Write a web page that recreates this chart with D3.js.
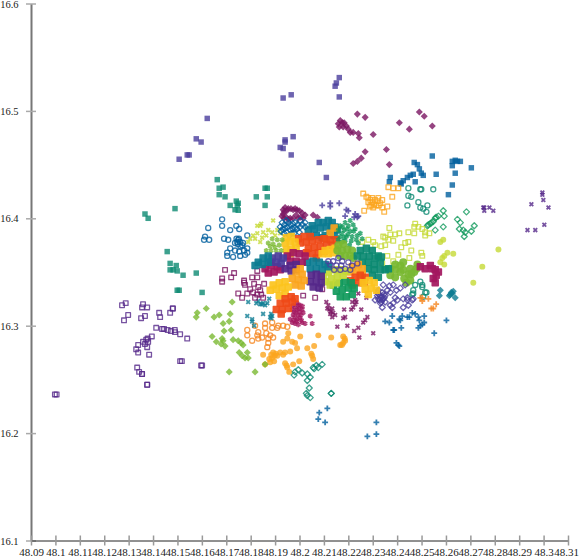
<!DOCTYPE html>
<html>
<head>
<meta charset="utf-8">
<script src="https://cdn.jsdelivr.net/npm/d3@7"></script>
<style>
html, body { margin: 0; padding: 0; background: #fff; overflow: hidden; }
</style>
</head>
<body>
<div id="chart"></div>
<script>
// Axis values
const xTicks = [48.09, 48.1, 48.11, 48.12, 48.13, 48.14, 48.15, 48.16, 48.17, 48.18, 48.19, 48.2, 48.21, 48.22, 48.23, 48.24, 48.25, 48.26, 48.27, 48.28, 48.29, 48.3, 48.31];
const yTicks = [16.1, 16.2, 16.3, 16.4, 16.5, 16.6];

// Points, [lon, lat]
const openSquarePurple = [[48.0998,16.236],[48.1005,16.236],[48.1273,16.319],[48.1288,16.321],[48.1281,16.305],[48.1298,16.31],[48.1359,16.32],[48.1355,16.317],[48.1376,16.317],[48.1351,16.307],[48.1367,16.309],[48.1425,16.312],[48.1429,16.308],[48.1481,16.316],[48.1481,16.316],[48.147,16.312],[48.1413,16.298],[48.1437,16.297],[48.1445,16.297],[48.146,16.296],[48.1473,16.295],[48.1489,16.296],[48.149,16.294],[48.1511,16.292],[48.154,16.288],[48.1395,16.29],[48.1378,16.288],[48.1372,16.287],[48.1359,16.285],[48.138,16.285],[48.1367,16.283],[48.1376,16.28],[48.1339,16.282],[48.1331,16.278],[48.1339,16.275],[48.1384,16.273],[48.1511,16.267],[48.1518,16.267],[48.1597,16.263],[48.1601,16.263],[48.1335,16.261],[48.1343,16.257],[48.1355,16.255],[48.1355,16.255],[48.1376,16.245],[48.1376,16.245]];
const fillSquareIndigo = [[48.2163,16.531],[48.2151,16.526],[48.2146,16.523],[48.2163,16.513],[48.1933,16.512],[48.1966,16.515],[48.1622,16.493],[48.1577,16.474],[48.1597,16.471],[48.1507,16.455],[48.154,16.459],[48.1548,16.459],[48.1941,16.473],[48.1941,16.471],[48.1974,16.476],[48.1921,16.466],[48.1933,16.465],[48.1966,16.459],[48.2081,16.452],[48.211,16.438]];
const fillSquareTeal = [[48.1663,16.436],[48.1671,16.428],[48.1687,16.429],[48.1671,16.422],[48.1695,16.42],[48.1741,16.416],[48.1749,16.414],[48.1745,16.412],[48.1716,16.412],[48.1736,16.408],[48.1749,16.4075],[48.1859,16.428],[48.1868,16.428],[48.1823,16.42],[48.1868,16.42],[48.1859,16.412],[48.149,16.409],[48.1367,16.404],[48.138,16.4],[48.1458,16.369],[48.147,16.358],[48.1495,16.356],[48.147,16.352],[48.1482,16.352],[48.1499,16.351],[48.1523,16.347],[48.1577,16.349],[48.1499,16.333],[48.1507,16.333],[48.1601,16.331]];
const fillDiamondWine = [[48.2175,16.489],[48.2179,16.485],[48.2208,16.48],[48.222,16.48],[48.2241,16.479],[48.2245,16.475],[48.2302,16.478],[48.2237,16.497],[48.2269,16.494],[48.2409,16.489],[48.245,16.483],[48.2491,16.499],[48.2511,16.495],[48.2544,16.486],[48.2356,16.464],[48.2269,16.462],[48.2253,16.456],[48.2237,16.453],[48.222,16.451],[48.2368,16.45],[48.2159,16.488],[48.2167,16.491],[48.2183,16.489],[48.2192,16.486],[48.22,16.483],[48.2163,16.485]];
const fillSquareBlue = [[48.2544,16.458],[48.247,16.452],[48.2483,16.45],[48.2491,16.446],[48.2499,16.442],[48.2507,16.44],[48.2466,16.441],[48.2454,16.44],[48.2442,16.438],[48.2474,16.434],[48.2425,16.435],[48.2413,16.433],[48.2372,16.438],[48.2368,16.434],[48.256,16.441],[48.2626,16.453],[48.2638,16.454],[48.2647,16.453],[48.2659,16.453],[48.2626,16.449],[48.2638,16.442],[48.2704,16.447],[48.2626,16.431],[48.261,16.422],[48.2417,16.432]];
const openSquareOrange = [[48.2261,16.423],[48.2274,16.42],[48.2298,16.419],[48.2282,16.415],[48.2294,16.412],[48.2323,16.419],[48.2339,16.417],[48.2331,16.414],[48.236,16.411],[48.2339,16.41],[48.2265,16.407],[48.2347,16.406],[48.2364,16.429],[48.2384,16.428],[48.2405,16.428],[48.238,16.42],[48.229,16.417],[48.231,16.417],[48.2306,16.413],[48.2282,16.419],[48.2315,16.412],[48.2298,16.415],[48.232,16.416],[48.2288,16.411],[48.2325,16.412],[48.2302,16.41]];
const openCircleTeal = [[48.2446,16.428],[48.2495,16.427],[48.2499,16.427],[48.2548,16.427],[48.2446,16.421],[48.2458,16.42],[48.2442,16.412],[48.2487,16.415],[48.2524,16.412],[48.2495,16.41],[48.2507,16.409],[48.252,16.406]];
const openDiamondGreen = [[48.2589,16.407],[48.2593,16.402],[48.2569,16.402],[48.2556,16.4],[48.2548,16.397],[48.2536,16.395],[48.2524,16.393],[48.2589,16.392],[48.2556,16.389],[48.2647,16.399],[48.2659,16.396],[48.2684,16.406],[48.2716,16.393],[48.2704,16.388],[48.2655,16.39],[48.2671,16.389],[48.2675,16.383],[48.2679,16.387],[48.254,16.396],[48.2528,16.394],[48.256,16.401]];
const timesPurple = [[48.2753,16.41],[48.2757,16.407],[48.2778,16.41],[48.2794,16.407],[48.2995,16.422],[48.2999,16.417],[48.295,16.413],[48.302,16.41],[48.3003,16.394],[48.2934,16.389],[48.2966,16.389],[48.2995,16.424],[48.2757,16.41]];
const openSquareLime = [[48.2368,16.391],[48.2343,16.383],[48.2351,16.382],[48.2372,16.385],[48.2392,16.385],[48.2409,16.386],[48.2446,16.387],[48.2474,16.395],[48.247,16.392],[48.2487,16.392],[48.2503,16.39],[48.2515,16.387],[48.2532,16.386],[48.247,16.386],[48.2515,16.384],[48.2384,16.379],[48.2364,16.38],[48.2446,16.378],[48.2433,16.377],[48.2417,16.373],[48.2458,16.37],[48.2499,16.368],[48.2503,16.365],[48.2405,16.366],[48.236,16.365],[48.245,16.363],[48.2339,16.358],[48.2384,16.36],[48.2282,16.38],[48.2257,16.378],[48.2302,16.378],[48.231,16.375],[48.2335,16.374],[48.2351,16.375]];
const fillCircleLime = [[48.2577,16.378],[48.2589,16.38],[48.2815,16.371],[48.263,16.367],[48.2606,16.368],[48.2593,16.365],[48.2585,16.363],[48.2577,16.359],[48.2593,16.357],[48.2749,16.355],[48.2712,16.34]];
const fillCircleGreen = [[48.2372,16.353],[48.2372,16.347],[48.2392,16.357],[48.2392,16.352],[48.2392,16.345],[48.2413,16.356],[48.2413,16.35],[48.2425,16.359],[48.2425,16.352],[48.2429,16.344],[48.2454,16.353],[48.2458,16.348],[48.2454,16.342],[48.247,16.35],[48.2479,16.353],[48.2483,16.357],[48.2446,16.348],[48.2438,16.34]];
const fillSquareCrimson = [[48.2495,16.355],[48.2515,16.353],[48.2536,16.356],[48.2544,16.353],[48.2556,16.352],[48.2569,16.35],[48.256,16.347],[48.2548,16.344],[48.2556,16.34]];
const openCircleTealLow = [[48.2495,16.341],[48.2474,16.338],[48.2503,16.336],[48.2515,16.331],[48.2466,16.333],[48.2462,16.329],[48.2507,16.327],[48.2503,16.338],[48.252,16.331],[48.2466,16.33]];
const fillDiamondSea = [[48.2577,16.333],[48.2573,16.328],[48.2614,16.328],[48.2622,16.331],[48.263,16.332],[48.2638,16.326],[48.2618,16.329],[48.2626,16.33]];
const plusOrange = [[48.2495,16.326],[48.2503,16.323],[48.2528,16.325],[48.254,16.316],[48.2548,16.316],[48.256,16.32],[48.2503,16.326]];
const plusBlue = [[48.238,16.309],[48.2351,16.304],[48.2368,16.303],[48.2409,16.306],[48.2421,16.309],[48.2442,16.308],[48.245,16.308],[48.2462,16.312],[48.2474,16.311],[48.2487,16.308],[48.2511,16.309],[48.2491,16.305],[48.2511,16.303],[48.2503,16.301],[48.2495,16.3],[48.2487,16.298],[48.2602,16.305],[48.2552,16.293],[48.2388,16.296],[48.2384,16.296],[48.2417,16.298],[48.2397,16.284],[48.2405,16.282],[48.2409,16.281],[48.2081,16.219],[48.2114,16.223],[48.2077,16.213],[48.2105,16.21],[48.2315,16.21],[48.2315,16.199],[48.2278,16.197],[48.2413,16.305]];
const openDiamondIndigo = [[48.2343,16.338],[48.2368,16.337],[48.2384,16.338],[48.2413,16.335],[48.2397,16.333],[48.2372,16.331],[48.2323,16.333],[48.2331,16.328],[48.231,16.324],[48.2331,16.321],[48.2339,16.317],[48.2372,16.319],[48.2384,16.321],[48.2401,16.324],[48.2433,16.338],[48.2442,16.324],[48.2462,16.324],[48.2446,16.319],[48.2425,16.317],[48.238,16.317],[48.2343,16.325],[48.2323,16.325],[48.2339,16.324],[48.2351,16.322],[48.2319,16.328],[48.2351,16.328],[48.2339,16.331],[48.236,16.333],[48.2392,16.326],[48.2425,16.325],[48.2442,16.326],[48.2466,16.325],[48.2333,16.326],[48.2325,16.329],[48.2345,16.329],[48.2335,16.322],[48.2329,16.324],[48.2337,16.327],[48.2321,16.331],[48.2347,16.326]];
const timesWine = [[48.211,16.322],[48.2118,16.319],[48.2134,16.316],[48.2114,16.316],[48.2138,16.312],[48.2126,16.311],[48.2146,16.31],[48.2134,16.308],[48.2155,16.299],[48.2183,16.315],[48.2187,16.308],[48.2179,16.307],[48.2196,16.3],[48.2212,16.315],[48.2216,16.322],[48.2228,16.32],[48.2233,16.322],[48.2253,16.315],[48.2241,16.298],[48.2224,16.295],[48.2245,16.289],[48.2261,16.303],[48.2278,16.308],[48.2269,16.305],[48.2302,16.293],[48.2274,16.326],[48.2241,16.33],[48.2228,16.324],[48.222,16.317],[48.2122,16.315],[48.2128,16.313]];
const asteriskCrimson = [[48.1974,16.319],[48.199,16.321],[48.2003,16.319],[48.197,16.315],[48.199,16.315],[48.2011,16.315],[48.1974,16.31],[48.1995,16.31],[48.2015,16.312],[48.2044,16.309],[48.1962,16.306],[48.199,16.306],[48.2011,16.303],[48.1982,16.302],[48.1995,16.301],[48.2023,16.302],[48.2052,16.302],[48.197,16.303],[48.1999,16.316],[48.1982,16.317],[48.1978,16.313],[48.2,16.313],[48.1985,16.312],[48.2005,16.31],[48.198,16.308],[48.2002,16.307],[48.1975,16.305],[48.1988,16.304],[48.2008,16.305],[48.1995,16.319],[48.2012,16.318]];
const fillCircleOrange = [[48.1954,16.293],[48.195,16.288],[48.1933,16.285],[48.197,16.285],[48.1982,16.284],[48.199,16.279],[48.2003,16.29],[48.2077,16.291],[48.2032,16.279],[48.206,16.281],[48.213,16.289],[48.2179,16.29],[48.2187,16.286],[48.2179,16.284],[48.2167,16.282],[48.1851,16.273],[48.1892,16.275],[48.1888,16.27],[48.1909,16.272],[48.1921,16.275],[48.188,16.266],[48.1941,16.275],[48.1962,16.276],[48.1933,16.273],[48.1999,16.267],[48.1974,16.264],[48.2052,16.272],[48.2056,16.269],[48.1941,16.265],[48.195,16.261],[48.1958,16.257],[48.1859,16.264],[48.1898,16.272],[48.1884,16.273],[48.1876,16.269],[48.1896,16.267],[48.1903,16.274],[48.1947,16.263],[48.2048,16.274],[48.2185,16.288],[48.2174,16.282]];
const openCircleOrange = [[48.1786,16.296],[48.1786,16.291],[48.1806,16.286],[48.1818,16.3],[48.1831,16.294],[48.1827,16.291],[48.1859,16.302],[48.1888,16.303],[48.1859,16.298],[48.1888,16.298],[48.1909,16.298],[48.1933,16.3],[48.195,16.299],[48.1913,16.3],[48.1847,16.289],[48.1872,16.288],[48.1892,16.289],[48.1872,16.284],[48.1868,16.28],[48.1831,16.288],[48.188,16.291],[48.1864,16.293]];
const openDiamondTeal = [[48.1978,16.254],[48.1995,16.259],[48.2011,16.256],[48.2032,16.255],[48.2044,16.252],[48.2032,16.249],[48.2056,16.261],[48.2069,16.263],[48.2077,16.261],[48.2093,16.264],[48.204,16.242],[48.2028,16.237],[48.2032,16.235],[48.2044,16.233],[48.213,16.237],[48.213,16.237],[48.1982,16.257],[48.206,16.26]];
const fillDiamondGreen = [[48.1577,16.308],[48.1581,16.312],[48.1618,16.316],[48.165,16.308],[48.1671,16.31],[48.1687,16.302],[48.1716,16.311],[48.1724,16.322],[48.1712,16.304],[48.1691,16.295],[48.172,16.296],[48.1642,16.29],[48.1659,16.285],[48.1683,16.288],[48.1687,16.286],[48.1679,16.283],[48.1695,16.281],[48.1728,16.287],[48.1749,16.286],[48.1761,16.284],[48.1769,16.282],[48.1753,16.275],[48.1765,16.272],[48.1786,16.275],[48.1777,16.27],[48.179,16.27],[48.1712,16.257],[48.1818,16.257],[48.1859,16.264]];
const timesSea = [[48.179,16.322],[48.1823,16.321],[48.1839,16.32],[48.1851,16.321],[48.1868,16.321],[48.1876,16.325],[48.1884,16.311],[48.1888,16.309],[48.1851,16.311],[48.1786,16.309],[48.1806,16.304],[48.1806,16.306],[48.1814,16.3],[48.188,16.308],[48.1831,16.323],[48.1859,16.319],[48.1884,16.307],[48.1845,16.32]];
const openSquareWine = [[48.1683,16.341],[48.1695,16.352],[48.1732,16.349],[48.172,16.345],[48.1683,16.344],[48.1773,16.342],[48.1806,16.345],[48.1827,16.345],[48.1827,16.351],[48.1773,16.34],[48.1777,16.338],[48.1814,16.339],[48.1831,16.336],[48.1855,16.339],[48.1749,16.33],[48.1765,16.326],[48.1786,16.33],[48.181,16.331],[48.1827,16.329],[48.1843,16.329],[48.1818,16.326],[48.1851,16.326],[48.2064,16.326],[48.2093,16.334],[48.2077,16.335],[48.2015,16.328],[48.1798,16.334],[48.1839,16.333]];
const openCircleBlue = [[48.1683,16.399],[48.1683,16.393],[48.1626,16.391],[48.1716,16.389],[48.1741,16.393],[48.1753,16.39],[48.1613,16.383],[48.1609,16.38],[48.163,16.38],[48.1691,16.381],[48.1708,16.38],[48.1786,16.384],[48.1745,16.378],[48.1757,16.378],[48.1769,16.377],[48.1716,16.372],[48.1704,16.368],[48.1736,16.37],[48.1753,16.369],[48.1773,16.37],[48.1786,16.372],[48.1704,16.365],[48.1728,16.364],[48.1757,16.365],[48.1777,16.366],[48.1786,16.368],[48.1749,16.38],[48.1736,16.377],[48.1765,16.375],[48.1752,16.381],[48.1747,16.376],[48.1758,16.374],[48.1742,16.381]];
const timesLime = [[48.1843,16.395],[48.1827,16.393],[48.1892,16.398],[48.1827,16.386],[48.181,16.384],[48.1798,16.381],[48.179,16.378],[48.1851,16.387],[48.1872,16.389],[48.1888,16.387],[48.1909,16.389],[48.1921,16.386],[48.1847,16.382],[48.1864,16.384],[48.1839,16.378],[48.1818,16.381],[48.19,16.384],[48.1839,16.393]];
const plusIndigo = [[48.2093,16.412],[48.2126,16.414],[48.2126,16.411],[48.2163,16.414],[48.2192,16.408],[48.22,16.407],[48.2187,16.402],[48.2228,16.404],[48.2241,16.402],[48.2237,16.401],[48.2224,16.401]];
const asteriskGreen = [[48.2187,16.396],[48.2208,16.398],[48.2167,16.393],[48.22,16.393],[48.222,16.394],[48.2159,16.389],[48.2183,16.389],[48.2208,16.388],[48.2228,16.39],[48.2167,16.383],[48.2192,16.383],[48.2216,16.383],[48.2237,16.384],[48.2187,16.379],[48.2212,16.379],[48.2159,16.38],[48.2233,16.38],[48.2249,16.386],[48.2257,16.381],[48.2241,16.377],[48.2175,16.386],[48.2195,16.39],[48.2175,16.378],[48.2205,16.375],[48.2176,16.392],[48.2198,16.385],[48.2182,16.382],[48.2222,16.388]];
const ringWine = [[48.1933,16.408],[48.1941,16.41],[48.1954,16.409],[48.1974,16.408],[48.199,16.408],[48.2011,16.405],[48.2023,16.403],[48.2015,16.4],[48.1995,16.4],[48.1974,16.4],[48.1954,16.399],[48.1937,16.4],[48.1933,16.404],[48.1946,16.401],[48.1986,16.403],[48.1962,16.4],[48.2056,16.403],[48.2073,16.401],[48.1948,16.407],[48.1965,16.409],[48.1982,16.409],[48.2,16.407],[48.1938,16.406],[48.1928,16.402],[48.2005,16.401]];
const openDiamondBlue = [[48.1929,16.396],[48.1946,16.398],[48.1962,16.394],[48.1982,16.396],[48.2003,16.398],[48.2023,16.396],[48.1921,16.392],[48.1941,16.391],[48.1962,16.389],[48.1982,16.391],[48.2003,16.392],[48.2023,16.392],[48.1937,16.386],[48.1958,16.384],[48.1978,16.386],[48.1999,16.387],[48.1951,16.392],[48.1972,16.39],[48.1992,16.394],[48.2012,16.394],[48.1931,16.39],[48.1938,16.394],[48.1955,16.396],[48.1972,16.395],[48.199,16.39],[48.1948,16.387],[48.1968,16.386],[48.1925,16.388]];
const fillSquareSeaTop = [[48.2052,16.393],[48.2077,16.396],[48.2097,16.396],[48.2118,16.398],[48.2134,16.396],[48.2146,16.392],[48.2036,16.389],[48.206,16.39],[48.2085,16.391],[48.211,16.392],[48.213,16.391],[48.2154,16.389],[48.2044,16.383],[48.2069,16.384],[48.2093,16.382],[48.2105,16.384],[48.2126,16.385],[48.2142,16.384]];
const fillSquareRedTop = [[48.1995,16.381],[48.2019,16.383],[48.2044,16.383],[48.2003,16.377],[48.2028,16.378],[48.2052,16.379],[48.2077,16.38],[48.2101,16.381],[48.2126,16.38],[48.2151,16.38],[48.2036,16.372],[48.206,16.373],[48.2085,16.374],[48.211,16.375],[48.2134,16.375],[48.2052,16.367],[48.2077,16.368],[48.2101,16.369],[48.2069,16.363],[48.2028,16.368]];
const fillSquareYellowLeft = [[48.1946,16.382],[48.1966,16.383],[48.1941,16.377],[48.1962,16.378],[48.1982,16.378],[48.1946,16.371],[48.1966,16.371],[48.1986,16.372],[48.1962,16.367]];
const fillSquareYellowMid = [[48.2105,16.37],[48.2126,16.371],[48.2146,16.372],[48.2093,16.367],[48.2118,16.367],[48.2138,16.368]];
const fillSquareOrangeDiag = [[48.211,16.381],[48.2126,16.386],[48.2142,16.391]];
const asteriskGreenLeft = [[48.1888,16.381],[48.1909,16.38],[48.1872,16.377],[48.1892,16.376],[48.1917,16.375],[48.1929,16.38],[48.1864,16.37],[48.1884,16.37],[48.1905,16.37],[48.1925,16.37],[48.188,16.374],[48.19,16.373]];
const fillCircleGreenMid = [[48.2159,16.375],[48.2179,16.376],[48.2155,16.37],[48.2175,16.37],[48.2196,16.371],[48.2216,16.37],[48.2167,16.365],[48.2187,16.365],[48.2208,16.365],[48.222,16.363]];
const openCircleIndigo = [[48.2118,16.36],[48.2138,16.36],[48.2159,16.363],[48.2175,16.36],[48.22,16.359],[48.2216,16.356],[48.2151,16.356],[48.2171,16.356],[48.2187,16.353],[48.2208,16.352],[48.2237,16.358],[48.2126,16.357],[48.2142,16.352],[48.2167,16.352]];
const fillSquareSeaRight = [[48.2249,16.37],[48.2274,16.372],[48.2298,16.37],[48.2323,16.365],[48.2237,16.365],[48.2261,16.365],[48.2286,16.365],[48.231,16.363],[48.2335,16.364],[48.2257,16.359],[48.2282,16.359],[48.2306,16.357],[48.2331,16.359],[48.2282,16.353],[48.2306,16.352],[48.2331,16.352],[48.2298,16.347],[48.2323,16.345],[48.2351,16.352],[48.2364,16.353]];
const fillSquareOrangeRight = [[48.2216,16.355],[48.2241,16.357],[48.2257,16.353],[48.2208,16.35],[48.2233,16.351],[48.2257,16.348]];
const fillSquareRedRight = [[48.2208,16.342],[48.2228,16.345],[48.2249,16.347],[48.2269,16.345],[48.2216,16.338],[48.2241,16.34],[48.2265,16.34]];
const fillSquareYellowRight = [[48.2261,16.34],[48.2286,16.342],[48.2306,16.34],[48.2269,16.334],[48.2294,16.335],[48.2315,16.333],[48.2282,16.329]];
const fillSquareGreenLow = [[48.2138,16.338],[48.2163,16.34],[48.2187,16.341],[48.2212,16.34],[48.2151,16.332],[48.2175,16.334],[48.22,16.335],[48.2224,16.335],[48.2167,16.327],[48.2192,16.327],[48.2216,16.329]];
const fillSquareLimeMid = [[48.2097,16.347],[48.2118,16.35],[48.2142,16.352],[48.2167,16.352],[48.2192,16.351],[48.2105,16.341],[48.213,16.344],[48.2155,16.346],[48.2179,16.347],[48.2126,16.338],[48.2151,16.34]];
const fillSquareSeaMid = [[48.2032,16.359],[48.2056,16.36],[48.2081,16.359],[48.2105,16.357],[48.2044,16.353],[48.2069,16.353],[48.2093,16.352],[48.2118,16.355]];
const fillSquarePurpleMid = [[48.2048,16.347],[48.2069,16.348],[48.2089,16.346],[48.2044,16.341],[48.2069,16.341],[48.2089,16.34],[48.2056,16.336],[48.2081,16.335]];
const fillSquareOrangeLow = [[48.2003,16.353],[48.1986,16.35],[48.2011,16.348],[48.197,16.344],[48.1995,16.343],[48.2019,16.342],[48.1982,16.338],[48.2007,16.337]];
const fillSquareYellowLow = [[48.1892,16.338],[48.1917,16.34],[48.1941,16.341],[48.188,16.333],[48.1905,16.334],[48.1929,16.335],[48.1954,16.336],[48.1917,16.328],[48.1941,16.33]];
const fillSquareRedLow = [[48.1941,16.325],[48.1966,16.327],[48.1921,16.321],[48.1946,16.321],[48.197,16.322],[48.1905,16.315],[48.1929,16.315],[48.1954,16.316],[48.1925,16.311],[48.1982,16.325]];
const fillSquareCrimsonMid = [[48.1859,16.353],[48.1884,16.356],[48.1909,16.355],[48.1872,16.349],[48.1896,16.35],[48.1921,16.352],[48.195,16.365],[48.1974,16.368],[48.1999,16.367],[48.2023,16.365],[48.1962,16.36],[48.1986,16.36],[48.2011,16.359]];
const fillSquareIndigoMid = [[48.1888,16.363],[48.1913,16.365],[48.1933,16.363],[48.188,16.359],[48.1905,16.359],[48.1925,16.358]];
const fillSquareSeaLeft = [[48.1831,16.359],[48.1851,16.363],[48.1872,16.365],[48.1818,16.356],[48.1847,16.357],[48.1872,16.359]];
const fillSquarePurpleLeft = [[48.1962,16.356],[48.1986,16.357],[48.1941,16.353],[48.1966,16.351],[48.1986,16.352]];

// Colours
const indigo = "#4a3d9c", purple = "#55288a", sea = "#0c7c92", teal = "#0c8a72", green = "#119a5c",
      blue = "#005f9e", wine = "#7b1562", crimson = "#a3175f", orange = "#fba51e", deep = "#f5861f",
      red = "#ef4a18", yellow = "#fcc41e", lime = "#c5d936", leaf = "#7ab932";

// Drawing order, back to front
const series = [
    { points: openSquarePurple, shape: "square", color: purple, open: true },
    { points: fillSquareIndigo, shape: "square", color: indigo },
    { points: fillSquareTeal, shape: "square", color: teal },
    { points: fillDiamondWine, shape: "diamond", color: wine },
    { points: fillSquareBlue, shape: "square", color: blue },
    { points: openSquareOrange, shape: "square", color: orange, open: true },
    { points: openCircleTeal, shape: "circle", color: teal, open: true },
    { points: openDiamondGreen, shape: "diamond", color: green, open: true },
    { points: timesPurple, shape: "times", color: purple },
    { points: openSquareLime, shape: "square", color: lime, open: true },
    { points: fillCircleLime, shape: "circle", color: lime },
    { points: fillCircleGreen, shape: "circle", color: leaf, blob: true },
    { points: fillSquareCrimson, shape: "square", color: crimson, blob: true },
    { points: openCircleTealLow, shape: "circle", color: teal, open: true },
    { points: fillDiamondSea, shape: "diamond", color: sea },
    { points: plusOrange, shape: "plus", color: deep },
    { points: plusBlue, shape: "plus", color: blue },
    { points: openDiamondIndigo, shape: "diamond", color: indigo, open: true },
    { points: timesWine, shape: "times", color: wine },
    { points: asteriskCrimson, shape: "asterisk", color: crimson },
    { points: fillCircleOrange, shape: "circle", color: orange },
    { points: openCircleOrange, shape: "circle", color: deep, open: true },
    { points: openDiamondTeal, shape: "diamond", color: teal, open: true },
    { points: fillDiamondGreen, shape: "diamond", color: leaf },
    { points: timesSea, shape: "times", color: sea },
    { points: openSquareWine, shape: "square", color: wine, open: true },
    { points: openCircleBlue, shape: "circle", color: blue, open: true },
    { points: timesLime, shape: "times", color: lime },
    { points: plusIndigo, shape: "plus", color: indigo },
    { points: ringWine, shape: "diamond", color: wine },
    { points: fillSquareSeaTop, shape: "square", color: sea, blob: true },
    { points: openDiamondBlue, shape: "diamond", color: blue, open: true },
    { points: fillSquareOrangeDiag, shape: "square", color: orange, blob: true },
    { points: fillSquareRedTop, shape: "square", color: red, blob: true },
    { points: fillSquareYellowLeft, shape: "square", color: yellow, blob: true },
    { points: fillSquareYellowMid, shape: "square", color: yellow, blob: true },
    { points: asteriskGreen, shape: "asterisk", color: green },
    { points: asteriskGreenLeft, shape: "asterisk", color: leaf },
    { points: fillCircleGreenMid, shape: "circle", color: leaf, blob: true },
    { points: fillSquareSeaRight, shape: "square", color: teal, blob: true },
    { points: fillSquareOrangeRight, shape: "square", color: orange, blob: true },
    { points: fillSquareRedRight, shape: "square", color: red, blob: true },
    { points: fillSquareYellowRight, shape: "square", color: yellow, blob: true },
    { points: fillSquareGreenLow, shape: "square", color: green, blob: true },
    { points: fillSquareLimeMid, shape: "square", color: lime, blob: true },
    { points: fillSquareSeaMid, shape: "square", color: sea, blob: true },
    { points: openCircleIndigo, shape: "circle", color: indigo, open: true },
    { points: fillSquareCrimsonMid, shape: "square", color: crimson, blob: true },
    { points: fillSquareIndigoMid, shape: "square", color: indigo, blob: true },
    { points: fillSquareSeaLeft, shape: "square", color: sea, blob: true },
    { points: fillSquarePurpleLeft, shape: "square", color: purple, blob: true },
    { points: fillSquarePurpleMid, shape: "square", color: purple, blob: true },
    { points: fillSquareOrangeLow, shape: "square", color: orange, blob: true },
    { points: fillSquareYellowLow, shape: "square", color: yellow, blob: true },
    { points: fillSquareRedLow, shape: "square", color: red, blob: true }
];

// Dimensions
const width = 579;
const height = 558;

const x = d3.scaleLinear().domain([48.09, 48.31]).range([31, 568]);
const y = d3.scaleLinear().domain([16.1, 16.6]).range([540.5, 3.5]);

const symbols = {
    square: { type: d3.symbolSquare, size: 30 },
    diamond: { type: d3.symbolDiamond2 || d3.symbolDiamond, size: 32 },
    circle: { type: d3.symbolCircle, size: 28 },
    plus: { type: d3.symbolPlus, size: 13 },
    times: { type: d3.symbolTimes, size: 11 },
    asterisk: { type: d3.symbolAsterisk, size: 18 }
};

const svg = d3.select("#chart")
    .append("svg")
    .attr("width", width)
    .attr("height", height)
    .style("display", "block");

// Marks
const layers = svg.selectAll("g.series")
    .data(series)
    .enter().append("g")
    .attr("class", "series");

layers.each(function (s) {
    const sym = symbols[s.shape];
    const lined = ["plus", "times", "asterisk"].includes(s.shape);
    let size = sym.size;
    if (s.open) size *= 0.72;
    if (s.blob) size *= 1.2;
    const path = d3.symbol().type(sym.type).size(size);
    d3.select(this).selectAll("path")
        .data(s.points)
        .enter().append("path")
        .attr("transform", d => `translate(${x(d[0])},${y(d[1])})`)
        .attr("d", path())
        .attr("fill", s.open || lined ? "none" : s.color)
        .attr("stroke", s.open || lined || s.blob ? s.color : "none")
        .attr("stroke-linejoin", "round")
        .attr("stroke-width", s.open ? 1.3 : s.blob ? 1.5 : 1.8)
        .attr("opacity", s.blob ? 0.92 : 0.8);
});

// Axes
const axisFont = "'Liberation Serif', 'Times New Roman', serif";

const yAxis = svg.append("g")
    .attr("transform", `translate(${x.range()[0]},0)`)
    .call(d3.axisLeft(y).tickValues(yTicks).tickSize(0).tickFormat(d3.format("~g")));
yAxis.select(".domain").attr("stroke", "#777").attr("stroke-width", 2);
yAxis.selectAll(".tick line")
    .attr("x1", -5).attr("x2", 5)
    .attr("stroke", "#aaa").attr("stroke-width", 1.5);
yAxis.selectAll(".tick text")
    .attr("x", -12.5)
    .attr("dy", "0.35em")
    .attr("fill", "#222")
    .style("font-family", axisFont)
    .style("font-size", "10.5px");

const xAxis = svg.append("g")
    .attr("transform", `translate(0,${y.range()[0]})`)
    .call(d3.axisBottom(x).tickValues(xTicks).tickSize(0).tickFormat(d3.format("~g")));
xAxis.select(".domain").attr("stroke", "#222").attr("stroke-width", 1);
xAxis.selectAll(".tick line")
    .attr("y1", -5).attr("y2", 5)
    .attr("stroke", "#999").attr("stroke-width", 1.5);
xAxis.selectAll(".tick text")
    .attr("y", 8)
    .attr("dy", "0.71em")
    .attr("dx", d => d === 48.31 ? -2 : 0)
    .attr("fill", "#222")
    .style("font-family", axisFont)
    .style("font-size", "11px");
</script>
</body>
</html>
